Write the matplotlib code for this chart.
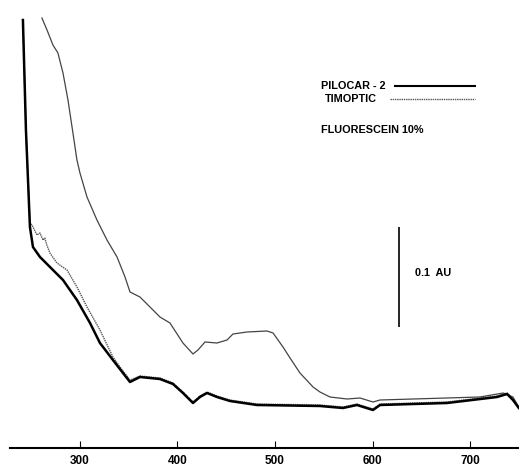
import matplotlib
matplotlib.use("Agg")
import matplotlib.pyplot as plt
import numpy as np

plt.rcParams['font.family'] = ['Liberation Sans', 'DejaVu Sans']
plt.rcParams['font.weight'] = 'bold'

# wavelength (nm) / absorbance (AU)
pilo_nm = [241.5, 244.6, 248.7, 251.8, 259, 272.3, 282.6, 296.9, 310.3, 320.5, 333.8, 344.1,
           351.3, 361.5, 382, 395.4, 405.6, 415.9, 423, 430.3, 440.5, 453.8, 481.5, 546,
           569.7, 584, 600.5, 607.7, 676.4, 727.7, 738, 744, 750]
pilo_au = [0.428, 0.318, 0.221, 0.201, 0.191, 0.178, 0.168, 0.148, 0.125, 0.105, 0.088, 0.075,
           0.066, 0.071, 0.069, 0.064, 0.055, 0.045, 0.051, 0.055, 0.051, 0.047, 0.043, 0.042,
           0.040, 0.043, 0.038, 0.043, 0.045, 0.051, 0.054, 0.048, 0.040]

timo_nm = [241.5, 244.6, 248.7, 250.8, 255.9, 259, 262, 264, 266, 269.2, 276.4, 286.7,
           296.9, 307.2, 320.5, 333.8, 341, 351.3, 361.5, 382, 395.4, 405.6, 415.9, 423,
           430.3, 440.5, 453.8, 481.5, 546, 569.7, 584, 600.5, 607.7, 676.4, 727.7, 738,
           744, 750]
timo_au = [0.428, 0.318, 0.225, 0.223, 0.213, 0.215, 0.208, 0.210, 0.203, 0.195, 0.185, 0.178,
           0.161, 0.141, 0.118, 0.091, 0.081, 0.068, 0.072, 0.070, 0.065, 0.056, 0.046, 0.052,
           0.056, 0.052, 0.048, 0.044, 0.043, 0.041, 0.044, 0.039, 0.044, 0.046, 0.052, 0.055,
           0.049, 0.041]

fluo_nm = [261, 266.2, 272.3, 277.4, 282.6, 287.7, 292.8, 296.9, 300, 307.2, 317.4, 327.7,
           338, 346.2, 351.3, 361.5, 371.8, 382, 392.3, 405.6, 415.9, 421, 428.2, 440.5,
           450.8, 456.9, 471.3, 491.8, 498, 508.2, 515.4, 525.6, 539, 546.1, 556.4, 573.8,
           587.2, 600.5, 607.7, 641.5, 676, 710, 734, 744, 750]
fluo_au = [0.430, 0.418, 0.403, 0.395, 0.375, 0.348, 0.315, 0.288, 0.275, 0.251, 0.228, 0.208,
           0.191, 0.171, 0.156, 0.151, 0.141, 0.131, 0.125, 0.105, 0.094, 0.098, 0.106, 0.105,
           0.108, 0.114, 0.116, 0.117, 0.115, 0.101, 0.090, 0.075, 0.061, 0.056, 0.051, 0.049,
           0.050, 0.046, 0.048, 0.049, 0.050, 0.051, 0.055, 0.051, 0.041]

xticks = [300, 400, 500, 600, 700]

fig = plt.figure(figsize=(5.19, 4.66), dpi=100)
ax = fig.add_axes([0, 0, 1, 1])

ax.plot(fluo_nm, fluo_au, color='#444444', linewidth=0.9, solid_joinstyle='round')
ax.plot(timo_nm, timo_au, color='#555555', linewidth=1.0, linestyle=(0, (1, 0.6)))
ax.plot(pilo_nm, pilo_au, color='black', linewidth=1.8, solid_joinstyle='round')

ax.set_xlim(218, 750.2)
ax.set_ylim(-0.018, 0.448)

for s in ['left', 'top', 'right']:
    ax.spines[s].set_visible(False)
ax.spines['bottom'].set_position(('data', 0))
ax.spines['bottom'].set_bounds(228, 750)
ax.spines['bottom'].set_linewidth(1.5)
ax.set_yticks([])
ax.set_xticks(xticks)
ax.tick_params(axis='x', direction='in', length=5, width=0.8, pad=5, labelsize=8.5)

# legend drawn by hand
ax.text(0.618, 0.815, 'PILOCAR - 2', transform=ax.transAxes, fontsize=7.8, va='center')
ax.plot([0.761, 0.915], [0.815, 0.815], transform=ax.transAxes, color='black', linewidth=1.5)
ax.text(0.626, 0.788, 'TIMOPTIC', transform=ax.transAxes, fontsize=7.8, va='center')
ax.plot([0.751, 0.915], [0.788, 0.788], transform=ax.transAxes, color='#555555',
        linewidth=1.0, linestyle=(0, (1, 0.6)))
ax.text(0.618, 0.721, 'FLUORESCEIN 10%', transform=ax.transAxes, fontsize=7.8, va='center')

# 0.1 AU scale bar
ax.vlines(627, 0.121, 0.221, color='black', linewidth=1.2)
ax.text(0.800, 0.414, '0.1  AU', transform=ax.transAxes, fontsize=7.8, va='center')

fig.savefig('out.png', dpi=100)
